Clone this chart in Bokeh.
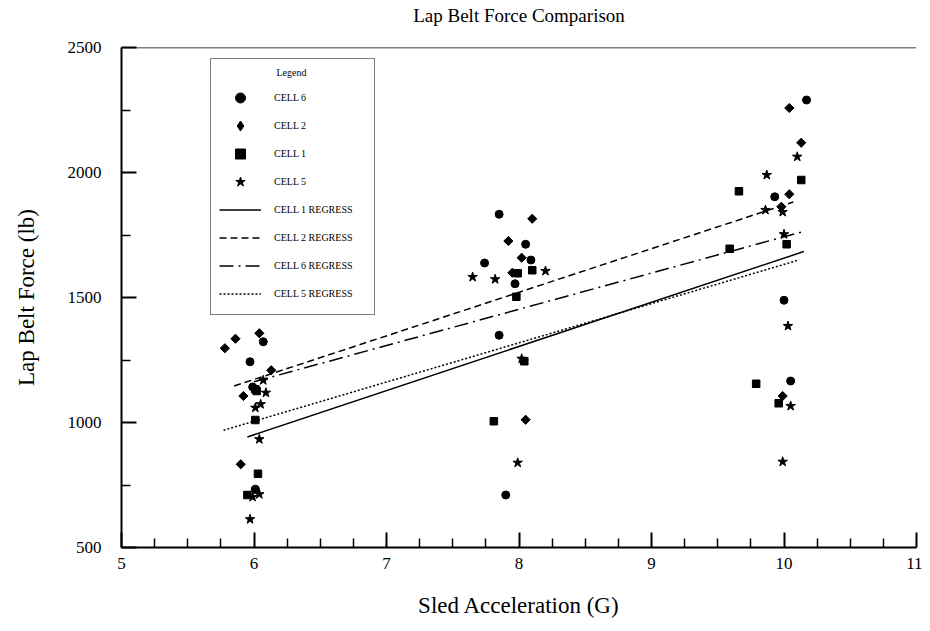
import math
from bokeh.plotting import figure
from bokeh.models import Range1d, FixedTicker, Span, Legend, LegendItem, Title
from bokeh.embed import file_html
from bokeh.resources import INLINE

# ---------------- data ----------------
x_ticks = [5, 6, 7, 8, 9, 10, 11]
y_ticks = [500, 1000, 1500, 2000, 2500]

# CELL 6 (circles)
cell6_x = [6.07, 5.97, 5.99, 6.01, 7.85, 8.05, 7.74, 8.09, 7.97, 7.85, 7.90, 10.17, 9.93, 10.00, 10.05]
cell6_y = [1323, 1243, 1142, 733, 1833, 1713, 1638, 1650, 1555, 1349, 710, 2290, 1903, 1489, 1166]

# CELL 2 (diamonds)
cell2_x = [5.78, 5.86, 6.04, 6.13, 5.92, 5.90, 7.92, 8.10, 8.02, 7.95, 8.05, 10.04, 10.13, 10.04, 9.98, 9.99]
cell2_y = [1297, 1335, 1357, 1209, 1106, 833, 1726, 1815, 1659, 1599, 1011, 2258, 2119, 1913, 1863, 1106]

# CELL 1 (squares)
cell1_x = [6.01, 6.02, 6.01, 6.03, 5.95, 7.99, 8.10, 7.98, 8.04, 7.81, 10.13, 9.66, 9.59, 10.02, 9.79, 9.96]
cell1_y = [1133, 1126, 1010, 795, 710, 1597, 1609, 1503, 1245, 1005, 1970, 1925, 1695, 1713, 1155, 1077]

# CELL 5 (stars)
cell5_x = [6.07, 6.09, 6.01, 6.05, 6.04, 6.04, 5.99, 5.97, 7.65, 7.82, 8.20, 8.02, 7.99,
           9.87, 10.10, 9.86, 9.99, 10.00, 10.03, 10.05, 9.99]
cell5_y = [1169, 1119, 1059, 1073, 933, 713, 702, 613, 1582, 1573, 1606, 1255, 839,
           1990, 2063, 1850, 1842, 1753, 1386, 1066, 843]

# regression lines (start / end points)
reg_names = ["CELL 1 REGRESS", "CELL 2 REGRESS", "CELL 6 REGRESS", "CELL 5 REGRESS"]
reg_x0 = [5.95, 5.85, 6.00, 5.77]
reg_x1 = [10.15, 10.07, 10.16, 10.10]
reg_y0 = [942, 1146, 1163, 969]
reg_y1 = [1684, 1882, 1766, 1648]
reg_dash = ["solid", "7 4", "14 5 2 5", "2 2"]

TITLE = "Lap Belt Force Comparison"
FONT = "Liberation Serif"

p = figure(width=922, height=628, output_backend="svg", toolbar_location=None,
           x_range=Range1d(x_ticks[0], x_ticks[-1]), y_range=Range1d(y_ticks[0], y_ticks[-1]),
           min_border_left=121, min_border_right=6, min_border_top=47, min_border_bottom=81)
p.xgrid.visible = False
p.ygrid.visible = False
p.outline_line_color = None
p.background_fill_color = "white"
p.border_fill_color = "white"

# spacer between frame and title, then the title itself
p.add_layout(Title(text="\u00a0", text_font_size="18px", standoff=0), "above")
p.add_layout(Title(text=TITLE, text_font=FONT, text_font_size="19px", text_font_style="normal",
                   text_color="black", align="center", standoff=0), "above")

x_minor = [x_ticks[0] + 0.25 * i for i in range(1, 4 * (len(x_ticks) - 1)) if i % 4]
y_minor = [y + 250 for y in y_ticks[:-1]]
p.xaxis.ticker = FixedTicker(ticks=x_ticks, minor_ticks=x_minor)
p.yaxis.ticker = FixedTicker(ticks=y_ticks, minor_ticks=y_minor)

for ax in (p.xaxis, p.yaxis):
    ax.axis_line_width = 2
    ax.axis_line_color = "black"
    ax.major_tick_in = 15
    ax.major_tick_out = 0
    ax.minor_tick_in = 9
    ax.minor_tick_out = 0
    ax.major_tick_line_width = 2
    ax.minor_tick_line_width = 1.5
    ax.major_tick_line_color = "black"
    ax.minor_tick_line_color = "black"
    ax.major_label_text_font = FONT
    ax.major_label_text_font_size = "17px"
    ax.major_label_text_color = "black"
    ax.axis_label_text_font = FONT
    ax.axis_label_text_font_size = "23px"
    ax.axis_label_text_font_style = "normal"
    ax.axis_label_text_color = "black"

p.xaxis.axis_label = "Sled Acceleration (G)"
p.yaxis.axis_label = "Lap Belt Force (lb)"
p.xaxis.major_label_standoff = 10
p.yaxis.major_label_standoff = 20
p.xaxis.axis_label_standoff = 21
p.yaxis.axis_label_standoff = 26

# top border of the frame
p.add_layout(Span(location=y_ticks[-1], dimension="width", line_color="black", line_width=1.5))

# regression lines
reg_renderers = []
for i in range(len(reg_names)):
    r = p.line([reg_x0[i], reg_x1[i]], [reg_y0[i], reg_y1[i]], line_color="black",
               line_width=1.5, line_dash=reg_dash[i])
    reg_renderers.append(r)

# diamond key for the legend (legend does not rotate markers); it sits hidden under
# the rotated-square diamonds drawn right after it
r2_key = p.scatter(cell2_x, cell2_y, marker="diamond", size=8, color="black")
r6 = p.scatter(cell6_x, cell6_y, marker="circle", size=8, color="black")
r2 = p.scatter(cell2_x, cell2_y, marker="square", angle=math.pi / 4, size=6.5, color="black")
r1 = p.scatter(cell1_x, cell1_y, marker="square", size=7.5, color="black")
r5 = p.scatter(cell5_x, cell5_y, marker="star", size=10, color="black")

items = [LegendItem(label="CELL 6", renderers=[r6]),
         LegendItem(label="CELL 2", renderers=[r2_key]),
         LegendItem(label="CELL 1", renderers=[r1]),
         LegendItem(label="CELL 5", renderers=[r5])]
for i, name in enumerate(reg_names):
    items.append(LegendItem(label=name, renderers=[reg_renderers[i]]))

legend = Legend(items=items, title="\u00a0" * 23 + "Legend", location=(89, 232))
legend.border_line_color = "black"
legend.border_line_width = 1.5
legend.background_fill_alpha = 1
legend.label_text_font = FONT
legend.label_text_font_size = "10px"
legend.label_text_color = "black"
legend.title_text_font = FONT
legend.title_text_font_size = "10px"
legend.title_text_font_style = "normal"
legend.title_text_color = "black"
legend.title_standoff = 7
legend.padding = 8
legend.spacing = 3
legend.glyph_width = 42
legend.glyph_height = 25
legend.label_height = 25
legend.label_width = 92
legend.label_standoff = 13
p.add_layout(legend)

open("out.html", "w").write(file_html(p, INLINE))
